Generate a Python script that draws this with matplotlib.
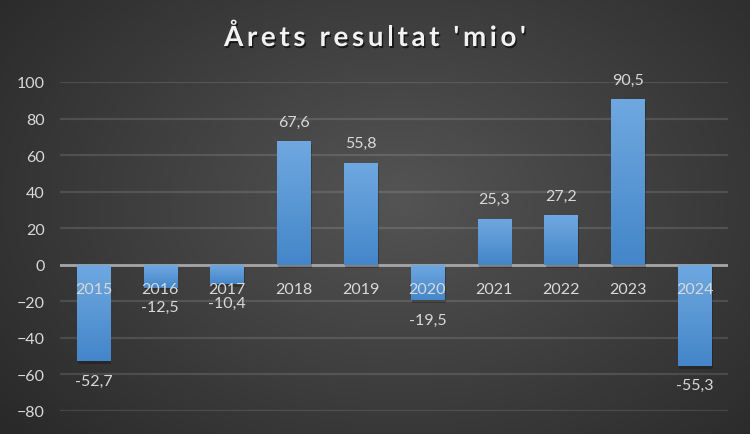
import numpy as np
import matplotlib
matplotlib.use('Agg')
import matplotlib.pyplot as plt
import matplotlib.patheffects as pe
from matplotlib.colors import LinearSegmentedColormap

###############################################
### Data

years = ['2015', '2016', '2017', '2018', '2019', '2020', '2021', '2022', '2023', '2024']
result = [-52.7, -12.5, -10.4, 67.6, 55.8, -19.5, 25.3, 27.2, 90.5, -55.3]
yticks = [-80, -60, -40, -20, 0, 20, 40, 60, 80, 100]
title = "Årets resultat 'mio'"

plt.rcParams['font.family'] = ['Lato', 'DejaVu Sans']

fig = plt.figure(figsize=(7.5, 4.35), dpi=100)

###############################################
### Background (radial gradient)

bg = fig.add_axes([0, 0, 1, 1], zorder=-10)
yy, xx = np.mgrid[0:435, 0:750]
r = np.sqrt(((xx - 400) / 520.0) ** 2 + ((yy - 200) / 360.0) ** 2)
shade = np.clip(0.33 - 0.17 * r, 0.13, 0.33)
bg.imshow(np.dstack([shade, shade, shade]), aspect='auto', extent=[0, 1, 0, 1])
bg.axis('off')

###############################################
### Bars

ax = fig.add_axes([0.08, 0.0529, 0.8907, 0.7563])
ax.set_facecolor('none')
x = np.arange(len(years))
bars = ax.bar(x, result, width=0.5, color='#4689cc', zorder=3,
              path_effects=[pe.SimplePatchShadow(offset=(1, -2), alpha=0.22, shadow_rgbFace='black'), pe.Normal()])

cmap = LinearSegmentedColormap.from_list('blu', ['#4486c9', '#6fa8e0'])
grad = np.linspace(0, 1, 100).reshape(-1, 1)
for b in bars:
    x0, y0 = b.get_x(), b.get_y()
    w, h = b.get_width(), b.get_height()
    lo, hi = min(y0, y0 + h), max(y0, y0 + h)
    im = ax.imshow(grad, cmap=cmap, aspect='auto', origin='lower',
                   extent=[x0, x0 + w, lo, hi], zorder=4)
    im.set_clip_path(b)

ax.set_xlim(-0.5, len(years) - 0.5)
ax.set_ylim(-80, 100)
ax.set_yticks(yticks)
ax.set_xticks([])
ax.tick_params(axis='y', length=0, pad=11, labelsize=11.5, labelcolor='#d9d9d9')
for s in ax.spines.values():
    s.set_visible(False)
ax.grid(axis='y', color='#ffffff', alpha=0.12, linewidth=1.6, zorder=0)
ax.axhline(0, color='#a6a6a6', linewidth=2, zorder=2)

###############################################
### Labels

for i, v in enumerate(result):
    ax.text(i, -13, years[i], ha='center', va='center', fontsize=11.5,
            color='#d9d9d9', zorder=6)
    off = 14 if v > 0 else -14
    ax.annotate(f'{v:.1f}'.replace('.', ','), (i, v), xytext=(0, off),
                textcoords='offset points', ha='center', va='center',
                fontsize=11.5, color='#d9d9d9', zorder=6)

###############################################
### Title with letter spacing

renderer = fig.canvas.get_renderer()
shadow = [pe.SimplePatchShadow(offset=(1, -1.5), alpha=0.6, shadow_rgbFace='black'), pe.Normal()]
spacing = 3.6
pieces = []
for ch in title:
    t = fig.text(0, 1 - 47 / 435, ch, ha='left', va='baseline', fontsize=20,
                 fontweight='bold', color='#f2f2f2', path_effects=shadow)
    pieces.append(t)
widths = []
for ch, t in zip(title, pieces):
    if ch == ' ':
        t2 = fig.text(0, 0, 'a a', fontsize=20, fontweight='bold')
        t3 = fig.text(0, 0, 'aa', fontsize=20, fontweight='bold')
        widths.append(t2.get_window_extent(renderer).width - t3.get_window_extent(renderer).width)
        t2.remove()
        t3.remove()
    else:
        widths.append(t.get_window_extent(renderer).width)
total = sum(widths) + spacing * (len(title) - 1)
xpos = 375 - total / 2
for t, w in zip(pieces, widths):
    t.set_x(xpos / 750)
    xpos += w + spacing

plt.savefig('out.png', dpi=100)
